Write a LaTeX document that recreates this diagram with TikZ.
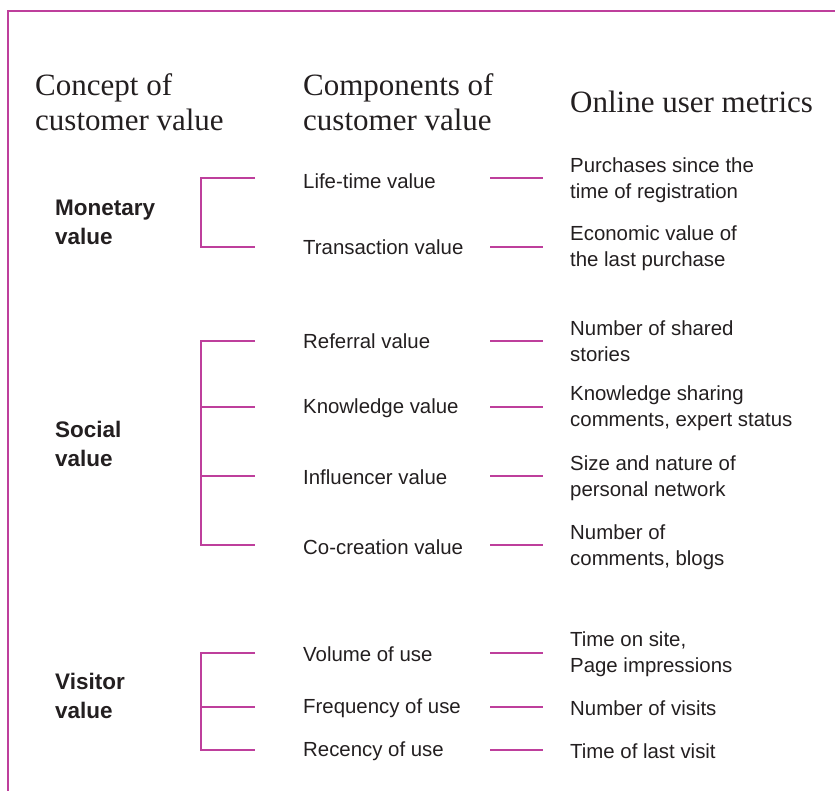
\documentclass[tikz,border=0pt]{standalone}
\usepackage{fontspec}
\setmainfont{Liberation Serif}
\setsansfont{Liberation Sans}
\definecolor{accent}{HTML}{BE3F9C}
\definecolor{ink}{HTML}{231F20}
\begin{document}
\begin{tikzpicture}[x=1pt,y=-1pt,
  head/.style={anchor=west,align=left,inner sep=0pt,text=ink,
    font=\fontsize{31}{35}\selectfont},
  concept/.style={anchor=west,align=left,inner sep=0pt,text=ink,
    font=\sffamily\bfseries\fontsize{22.5}{29}\selectfont},
  item/.style={anchor=west,align=left,inner sep=0pt,text=ink,
    font=\sffamily\fontsize{20.4}{25.5}\selectfont},
  link/.style={draw=accent,line width=2.3pt},
  frame/.style={draw=accent,line width=2.3pt}]
\useasboundingbox (0,0) rectangle (835,791);

% outer frame (top and left edges only)
\coordinate (ftr) at (840,11);
\coordinate (ftl) at (8,11);
\coordinate (fbl) at (8,796);
\draw[frame] (ftr) -- (ftl) -- (fbl);

% column headings
\node[head] (h1) at (35,102) {Concept of\\customer value};
\node[head] (h2) at (303,102) {Components of\\customer value};
\node[head] (h3) at (570,102) {Online user metrics};

% concepts
\node[concept] (monetary) at (55,222) {Monetary\\value};
\node[concept] (social)   at (55,444) {Social\\value};
\node[concept] (visitor)  at (55,696) {Visitor\\value};

% components
\node[item] (c1) at (303,181) {Life-time value};
\node[item] (c2) at (303,247) {Transaction value};
\node[item] (c3) at (303,341) {Referral value};
\node[item] (c4) at (303,408) {Knowledge value};
\node[item] (c5) at (303,477) {Influencer value};
\node[item] (c6) at (303,547) {Co-creation value};
\node[item] (c7) at (303,654) {Volume of use};
\node[item] (c8) at (303,708) {Frequency of use};
\node[item] (c9) at (303,751) {Recency of use};

% metrics
\node[item] (m1) at (570,180) {Purchases since the\\time of registration};
\node[item] (m2) at (570,248) {Economic value of\\the last purchase};
\node[item] (m3) at (570,341) {Number of shared\\stories};
\node[item] (m4) at (570,408) {Knowledge sharing\\comments, expert status};
\node[item] (m5) at (570,478) {Size and nature of\\personal network};
\node[item] (m6) at (570,547) {Number of\\comments, blogs};
\node[item] (m7) at (570,654) {Time on site,\\Page impressions};
\node[item] (m8) at (570,708) {Number of visits};
\node[item] (m9) at (570,751) {Time of last visit};

% bracket tick ends (left) and metric link ends (right)
\foreach \i/\y in {1/178,2/247,3/341,4/407,5/476,6/545,7/653,8/707,9/750}{
  \coordinate (bl\i) at (201,\y);
  \coordinate (br\i) at (255,\y);
  \coordinate (ll\i) at (490,\y);
  \coordinate (lr\i) at (543,\y);
}

% brackets grouping the components
\draw[link] (br1) -- (bl1) -- (bl2) -- (br2);
\draw[link] (br3) -- (bl3) -- (bl6) -- (br6);
\draw[link] (bl4) -- (br4);
\draw[link] (bl5) -- (br5);
\draw[link] (br7) -- (bl7) -- (bl9) -- (br9);
\draw[link] (bl8) -- (br8);

% links from components to metrics
\foreach \i in {1,...,9}{
  \draw[link] (ll\i) -- (lr\i);
}
\end{tikzpicture}
\end{document}
